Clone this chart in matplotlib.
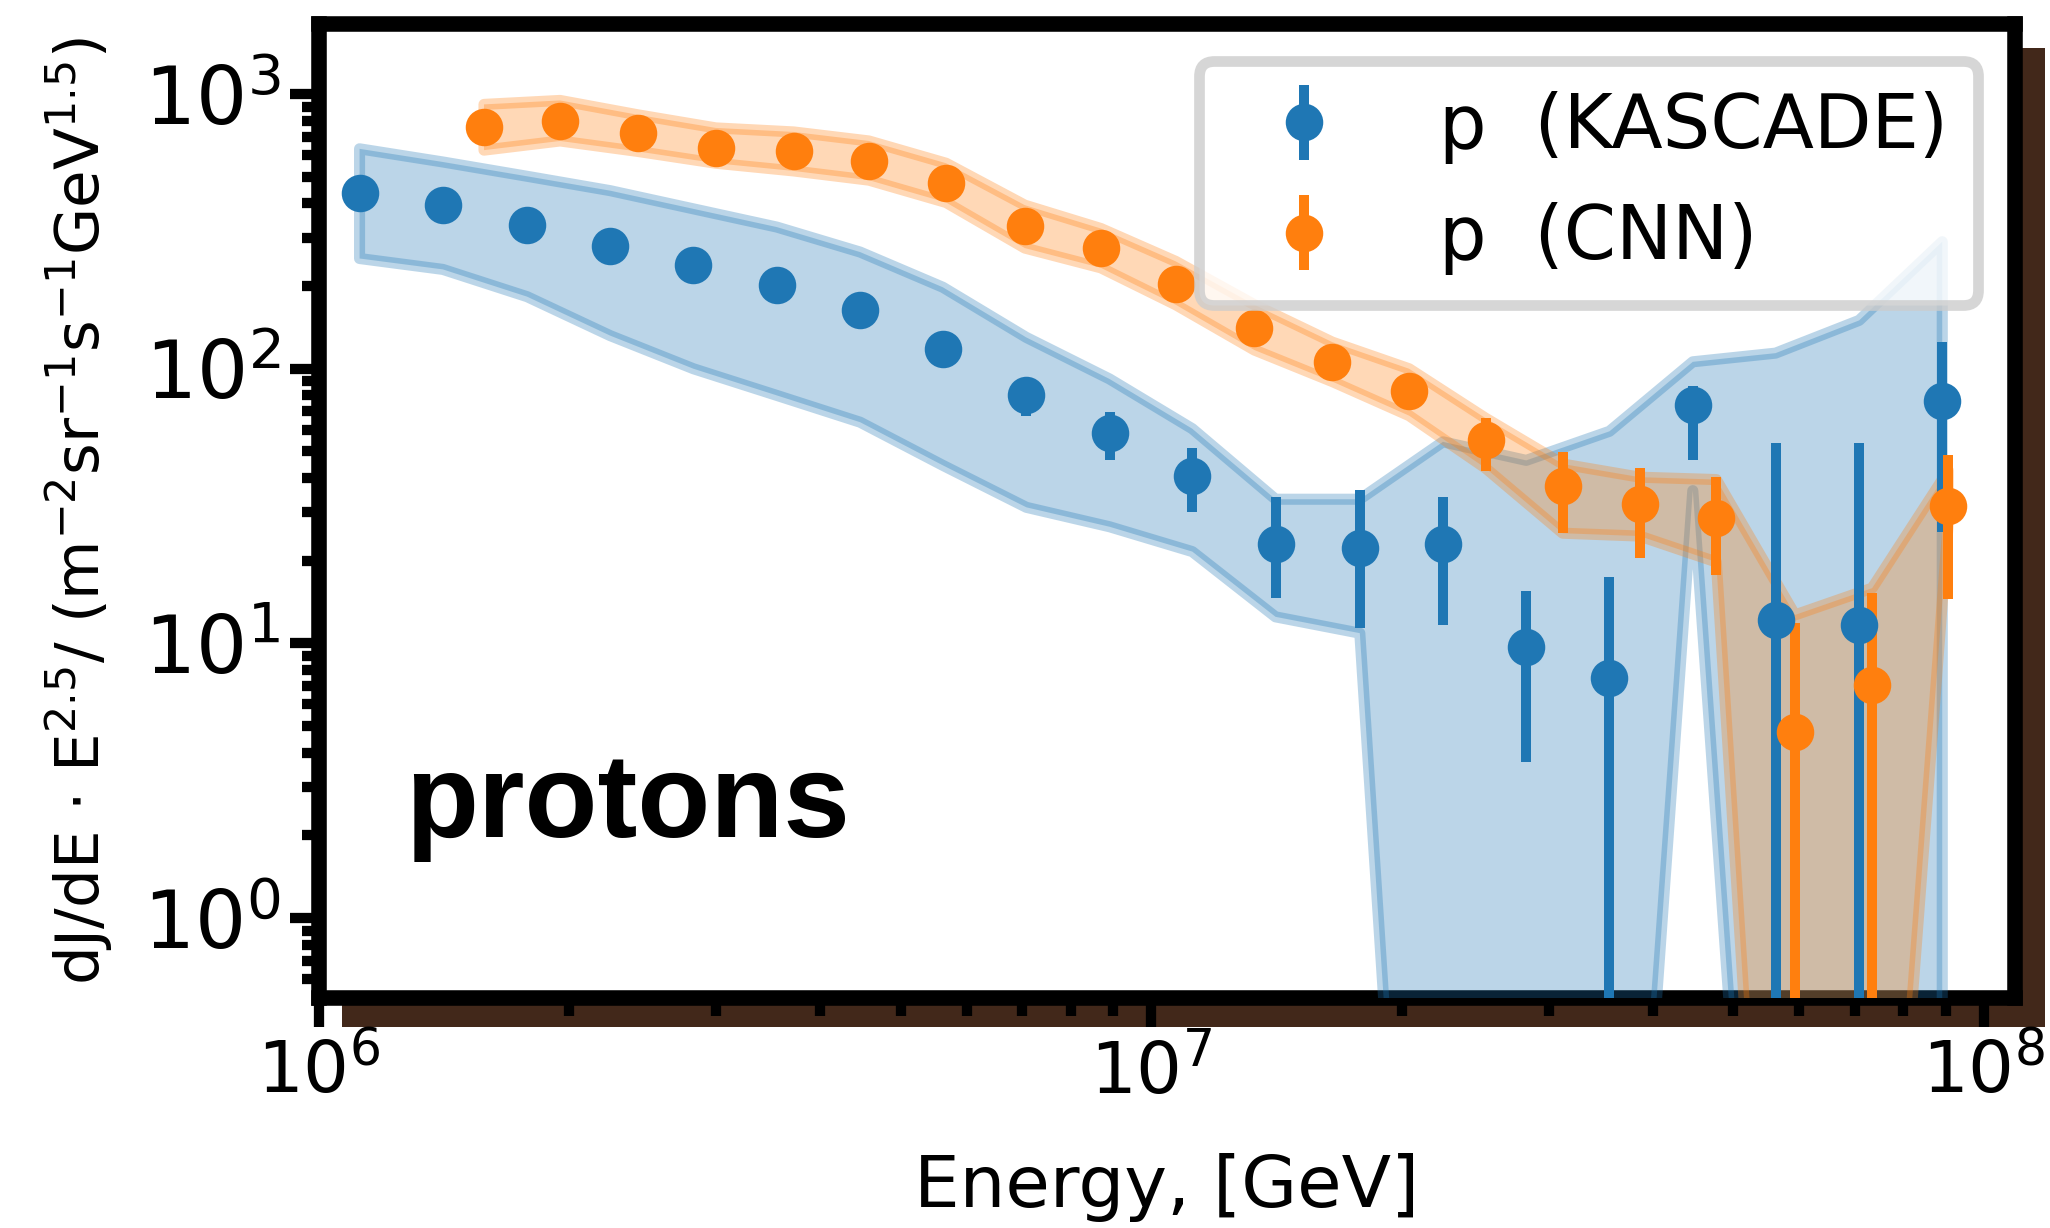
import matplotlib.pyplot as plt
import matplotlib.patches as mpatches

# KASCADE proton flux, E^2.5 weighted
e_kas = [1.12e6, 1.41e6, 1.78e6, 2.24e6, 2.82e6, 3.55e6, 4.47e6, 5.62e6, 7.08e6, 8.91e6,
         1.12e7, 1.41e7, 1.78e7, 2.24e7, 2.82e7, 3.55e7, 4.47e7, 5.62e7, 7.08e7, 8.91e7]
flux_kas = [435, 394, 334, 281, 238, 202, 164, 118, 80.4, 58.5,
            40.7, 23.0, 22.3, 23.0, 9.7, 7.5, 73.6, 12.2, 11.7, 76.2]
err_kas_lo = [415, 376, 319, 268, 227, 193, 156, 112, 67.5, 46.6,
              30.0, 14.6, 11.4, 11.7, 3.7, 0.01, 46.6, 0.01, 0.01, 25.4]
err_kas_hi = [455, 412, 349, 294, 249, 211, 172, 124, 89.8, 69.8,
              51.4, 34.2, 36.1, 34.2, 15.5, 17.5, 86.9, 53.5, 53.5, 125]
band_kas_lo = [252, 230, 183, 132, 100, 80, 63.9, 44.5, 31.3, 26.6,
               21.6, 12.5, 10.9, 2.5e-4, 2.5e-4, 2e-3, 36, 2e-3, 3e-4, 3e-4]
band_kas_hi = [632, 566, 502, 445, 382, 328, 266, 198, 130, 91.8,
               60.5, 33.5, 33.5, 54.2, 46.4, 59.2, 106, 114, 150, 290]

# CNN reconstruction
e_cnn = [1.58e6, 1.95e6, 2.42e6, 3.00e6, 3.72e6, 4.58e6, 5.67e6, 7.05e6, 8.70e6, 1.07e7,
         1.33e7, 1.65e7, 2.04e7, 2.52e7, 3.12e7, 3.86e7, 4.77e7, 5.93e7, 7.34e7, 9.06e7]
flux_cnn = [761, 795, 721, 638, 618, 573, 476, 331, 275, 204,
            141, 106, 83.2, 54.9, 37.4, 32.1, 28.7, 4.75, 7.06, 31.7]
err_cnn_lo = [731, 763, 692, 612, 593, 550, 457, 318, 264, 196,
              135, 102, 72.9, 42.6, 25.2, 20.5, 17.7, 0.01, 0.01, 14.5]
err_cnn_hi = [791, 827, 750, 664, 643, 596, 495, 344, 286, 212,
              147, 110, 89.8, 66.1, 49.6, 43.5, 40.3, 11.9, 15.3, 48.6]
band_cnn_lo = [625, 675, 618, 560, 525, 486, 403, 275, 233, 171,
               117, 89.8, 67.5, 43.5, 25.2, 24.6, 19.8, 6e-4, 6e-3, 27.5]
band_cnn_hi = [917, 948, 840, 753, 728, 675, 560, 394, 324, 246,
               171, 125, 100, 66.1, 45, 40.3, 39.5, 12.7, 15.9, 42.6]

fig = plt.figure(figsize=(10.25, 6.14), dpi=200)

# dark drop shadow behind the axes frame
shadow = mpatches.Rectangle((0.1668, 0.1637), 0.8307, 0.7972, transform=fig.transFigure,
                            facecolor='#42281a', edgecolor='none', zorder=-1)
fig.patches.append(shadow)

ax = fig.add_axes([0.1554, 0.1869, 0.8276, 0.7936])

ax.fill_between(e_kas, band_kas_lo, band_kas_hi, color='tab:blue', alpha=0.3, lw=4, zorder=3)
ax.fill_between(e_cnn, band_cnn_lo, band_cnn_hi, color='tab:orange', alpha=0.3, lw=4, zorder=3)

yerr_kas = [[v - lo for v, lo in zip(flux_kas, err_kas_lo)],
            [hi - v for v, hi in zip(flux_kas, err_kas_hi)]]
yerr_cnn = [[v - lo for v, lo in zip(flux_cnn, err_cnn_lo)],
            [hi - v for v, hi in zip(flux_cnn, err_cnn_hi)]]

ax.errorbar(e_kas, flux_kas, yerr=yerr_kas, fmt='o', color='tab:blue', ms=12.5,
            elinewidth=3.6, capsize=0, label='p  (KASCADE)', zorder=4)
ax.errorbar(e_cnn, flux_cnn, yerr=yerr_cnn, fmt='o', color='tab:orange', ms=12.5,
            elinewidth=3.6, capsize=0, label='p  (CNN)', zorder=4)

ax.set_xscale('log')
ax.set_yscale('log')
ax.set_xlim(1e6, 1.09e8)
ax.set_ylim(0.51, 1800)

for s in ax.spines.values():
    s.set_linewidth(5.6)
ax.tick_params(which='major', length=10.3, width=3.7)
ax.tick_params(which='minor', length=6.3, width=3.7)
ax.tick_params(axis='x', labelsize=26)
ax.tick_params(axis='y', labelsize=29)

ax.set_xlabel('Energy, [GeV]', fontsize=26, labelpad=16)
ax.set_ylabel(r'dJ/dE $\cdot$ E$^{2.5}$/ (m$^{-2}$sr$^{-1}$s$^{-1}$GeV$^{1.5}$)',
              fontsize=22, labelpad=10)

ax.text(0.051, 0.166, 'protons', transform=ax.transAxes, fontsize=43,
        fontweight='bold', family='Liberation Sans', va='baseline')

leg = ax.legend(loc='upper right', fontsize=27)
leg.get_frame().set_linewidth(3.85)

fig.savefig('out.png', dpi=200)
